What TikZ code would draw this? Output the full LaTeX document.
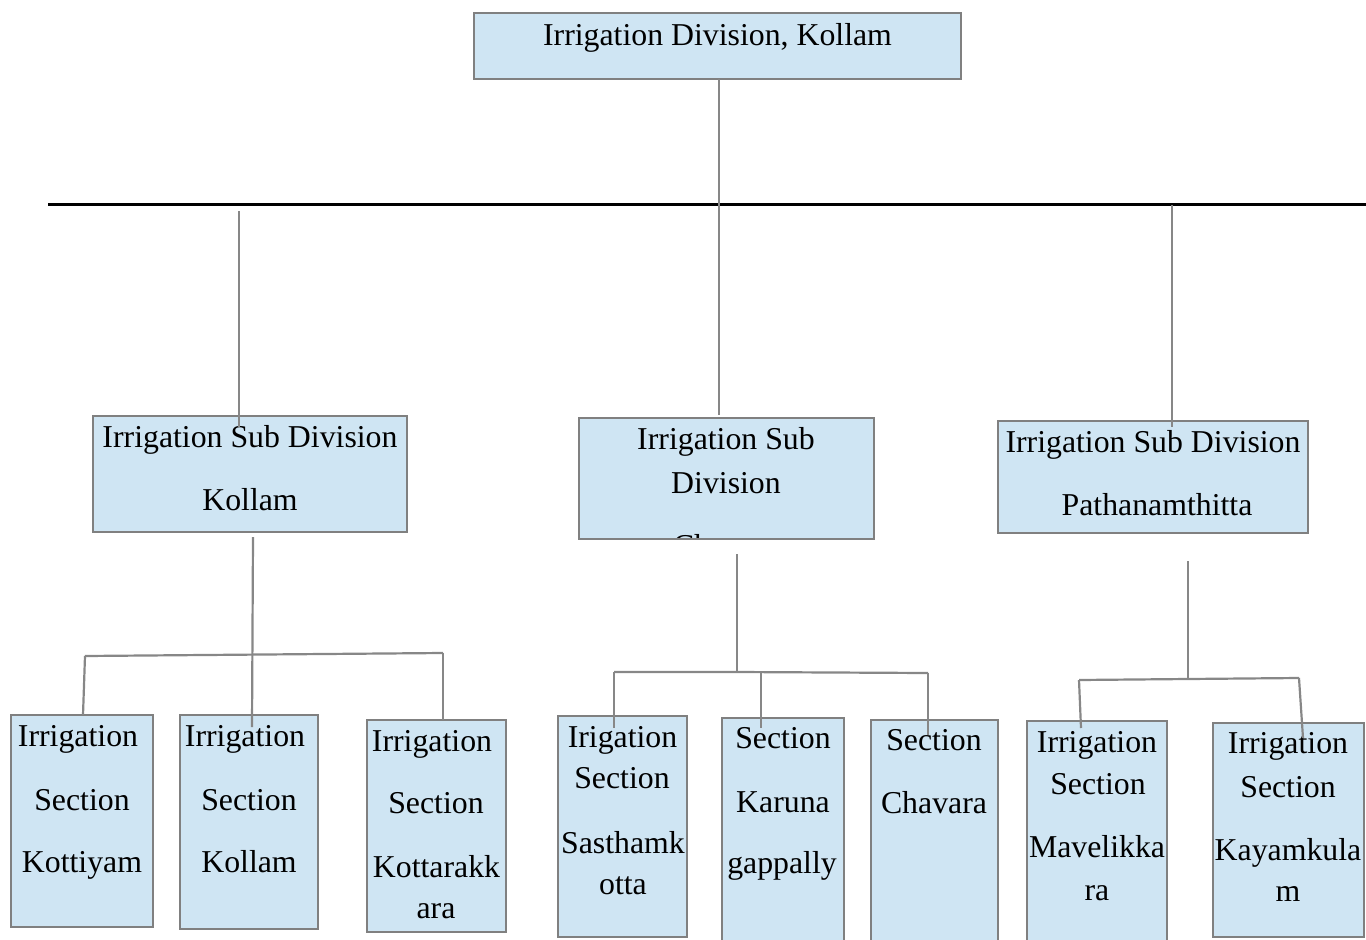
\documentclass[tikz,border=0pt]{standalone}
\usepackage{fontspec}
\setmainfont{Liberation Serif}
\definecolor{boxfill}{RGB}{207,229,243}
\definecolor{boxline}{RGB}{128,128,128}
\definecolor{connline}{RGB}{135,135,135}
\tikzset{
  orgbox/.style={draw=boxline, line width=2pt, fill=boxfill, inner sep=0pt, outer sep=0pt, anchor=north west},
  txt/.style={inner sep=0pt, anchor=base, font=\fontsize{31.8}{38}\selectfont},
  conn/.style={draw=connline, line width=2.2pt},
  bus/.style={draw=black, line width=3pt}
}
\begin{document}
\begin{tikzpicture}[x=1pt,y=-1pt]
\useasboundingbox (0,0) rectangle (1366,940);
% boxes
\node[orgbox, minimum width=487pt, minimum height=66pt] (top) at (474,13) {};
\node[orgbox, minimum width=314pt, minimum height=116pt] (sub1) at (93,416) {};
\node[orgbox, minimum width=295pt, minimum height=121pt] (sub2) at (579,418) {};
\node[orgbox, minimum width=310pt, minimum height=112pt] (sub3) at (998,421) {};
\node[orgbox, minimum width=142pt, minimum height=212pt] (k1) at (11,715) {};
\node[orgbox, minimum width=138pt, minimum height=214pt] (k2) at (180,715) {};
\node[orgbox, minimum width=139pt, minimum height=212pt] (k3) at (367,720) {};
\node[orgbox, minimum width=129pt, minimum height=221pt] (s1) at (558,716) {};
\node[orgbox, minimum width=122pt, minimum height=226pt] (s2) at (722,718) {};
\node[orgbox, minimum width=127pt, minimum height=224pt] (s3) at (871,720) {};
\node[orgbox, minimum width=140pt, minimum height=223pt] (m1) at (1027,721) {};
\node[orgbox, minimum width=151pt, minimum height=214pt] (m2) at (1213,723) {};
% texts
\node[txt] (topt) at (717.5,45) {Irrigation Division, Kollam};
\node[txt] (sub1a) at (250,447) {Irrigation Sub Division};
\node[txt] (sub1b) at (250,510) {Kollam};
\node[txt] (sub2a) at (726,449) {Irrigation Sub};
\node[txt] (sub2b) at (726,493) {Division};
\begin{scope}
\clip (580,419) rectangle (873,537.5);
\node[txt] (sub2c) at (726,556) {Chavara};
\end{scope}
\node[txt] (sub3a) at (1153,452) {Irrigation Sub Division};
\node[txt] (sub3b) at (1157,515) {Pathanamthitta};
\node[txt] (k1a) at (78,746) {Irrigation};
\node[txt] (k1b) at (82,810) {Section};
\node[txt] (k1c) at (82,872) {Kottiyam};
\node[txt] (k2a) at (245,746) {Irrigation};
\node[txt] (k2b) at (249,810) {Section};
\node[txt] (k2c) at (249,872) {Kollam};
\node[txt] (k3a) at (432,751) {Irrigation};
\node[txt] (k3b) at (436,813) {Section};
\node[txt] (k3c) at (436.5,877) {Kottarakk};
\node[txt] (k3d) at (436,918) {ara};
\node[txt] (s1a) at (622.5,747) {Irigation};
\node[txt] (s1b) at (622,788) {Section};
\node[txt] (s1c) at (623,853) {Sasthamk};
\node[txt] (s1d) at (623,894) {otta};
\node[txt] (s2a) at (783,748) {Section};
\node[txt] (s2b) at (783,812) {Karuna};
\node[txt] (s2c) at (782,873) {gappally};
\node[txt] (s3a) at (934,750) {Section};
\node[txt] (s3b) at (934,813) {Chavara};
\node[txt] (m1a) at (1097,752) {Irrigation};
\node[txt] (m1b) at (1098,794) {Section};
\node[txt] (m1c) at (1097,857) {Mavelikka};
\node[txt] (m1d) at (1097,900) {ra};
\node[txt] (m2a) at (1288,753) {Irrigation};
\node[txt] (m2b) at (1288,797) {Section};
\node[txt] (m2c) at (1288,860) {Kayamkula};
\node[txt] (m2d) at (1288,901) {m};
% junction coordinates
\coordinate (busL) at (48,204);
\coordinate (busR) at (1366,204);
\coordinate (b1) at (239,211);
\coordinate (b3) at (1172,205);
\coordinate (j1L) at (85,656);
\coordinate (j1R) at (443,653);
\coordinate (j2) at (737,672);
\coordinate (j2L) at (614,672);
\coordinate (j2R) at (928,673);
\coordinate (j2k) at (761,671);
\coordinate (j3) at (1188,679);
\coordinate (j3L) at (1079,680);
\coordinate (j3R) at (1299,678);
% connectors
\draw[bus] (busL) -- (busR);
\draw[conn] ([xshift=1.5pt]top.south) -- ([xshift=-7.5pt,yshift=3pt]sub2.north);
\draw[conn] (b1) -- ([xshift=-11pt,yshift=-11pt]sub1.north);
\draw[conn] (b3) -- ([xshift=19pt,yshift=-6pt]sub3.north);
% left group
\draw[conn] ([xshift=3pt,yshift=-5pt]sub1.south) -- ([xshift=3pt,yshift=-12pt]k2.north);
\draw[conn] (j1L) -- (j1R);
\draw[conn] (j1L) -- ([xshift=1pt]k1.north);
\draw[conn] (j1R) -- ([xshift=6.5pt]k3.north);
% middle group
\draw[conn] ([xshift=10.5pt,yshift=-15pt]sub2.south) -- (j2);
\draw[conn] (j2L) -- (j2) -- (j2R);
\draw[conn] (j2L) -- ([xshift=-8.5pt,yshift=-12pt]s1.north);
\draw[conn] (j2k) -- ([xshift=-22pt,yshift=-10pt]s2.north);
\draw[conn] (j2R) -- ([xshift=-6.5pt,yshift=-15pt]s3.north);
% right group
\draw[conn] ([xshift=35pt,yshift=-28pt]sub3.south) -- (j3);
\draw[conn] (j3L) -- (j3) -- (j3R);
\draw[conn] (j3L) -- ([xshift=-16pt,yshift=-7pt]m1.north);
\draw[conn] (j3R) -- ([xshift=14.5pt,yshift=-15pt]m2.north);
\end{tikzpicture}
\end{document}
